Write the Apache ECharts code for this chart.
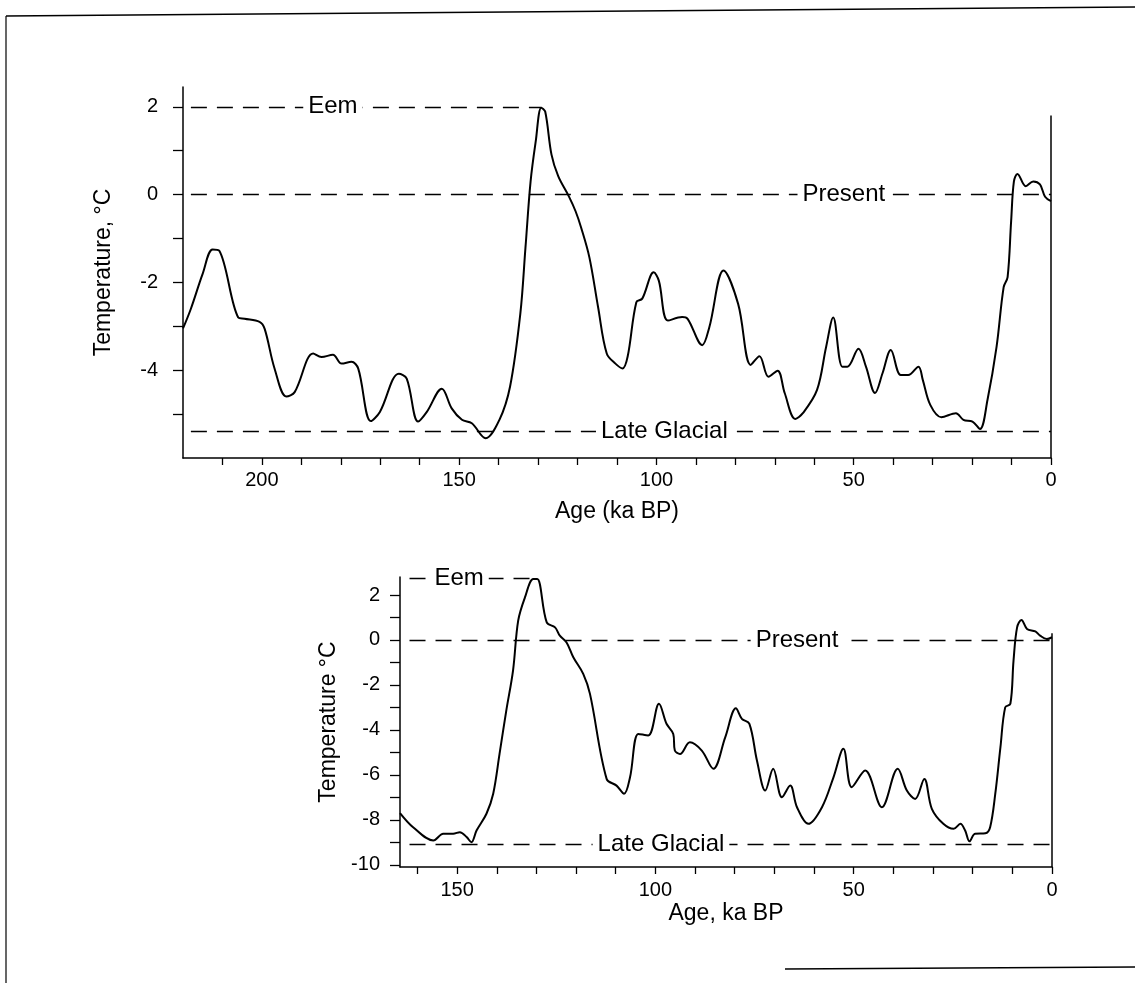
<!DOCTYPE html>
<html><head><meta charset="utf-8">
<script src="https://cdn.jsdelivr.net/npm/echarts@6/dist/echarts.min.js"></script>
<style>html,body{margin:0;padding:0;background:#fff}#c{width:1135px;height:983px}</style>
</head><body><div id="c"></div>
<script>
// ---------- Upper panel: temperature vs age (ka BP) ----------
const topAge = [220, 218, 215, 212.5, 210.8, 206, 204.4, 200.6, 199.3, 196.8, 193.8, 191.7, 187, 184.9, 182, 179.8, 177.3, 175.6, 172.4, 170.1, 165.3, 163.3, 160.4, 158.2, 154.4, 151.9, 149.3, 146.8, 143.3, 139.8, 137.1, 134.5, 133.2, 131.9, 130.6, 129.2, 128.2, 126.6, 124.9, 122.2, 120.5, 119.1, 117.0, 114.8, 112.6, 110.4, 108.6, 107.3, 105.1, 103.6, 100.7, 99.4, 97.1, 93.5, 92.1, 88.4, 86.6, 83.0, 79.3, 76.1, 73.9, 71.6, 69.3, 67.5, 64.8, 62.9, 59.3, 57.0, 55.2, 52.9, 51.6, 48.8, 46.9, 44.6, 42.7, 40.6, 38.1, 36.2, 33.6, 32.5, 30.6, 27.8, 24.1, 22.2, 19.9, 18.0, 16.1, 13.8, 12.0, 11.0, 10.1, 9.4, 8.5, 6.4, 4.5, 2.8, 1.5, 0];
const topTemp = [-3.05, -2.6, -1.8, -1.25, -1.28, -2.8, -2.83, -2.9, -3.06, -3.96, -4.6, -4.5, -3.62, -3.7, -3.65, -3.85, -3.81, -3.96, -5.16, -4.95, -4.08, -4.19, -5.17, -4.95, -4.42, -4.87, -5.13, -5.21, -5.55, -5.13, -4.37, -2.71, -1.21, 0.3, 1.21, 1.98, 1.89, 0.91, 0.42, -0.04, -0.38, -0.75, -1.43, -2.56, -3.62, -3.85, -3.96, -3.69, -2.45, -2.37, -1.77, -1.96, -2.87, -2.79, -2.83, -3.43, -3.02, -1.73, -2.49, -3.88, -3.68, -4.15, -4.01, -4.52, -5.11, -4.98, -4.45, -3.47, -2.8, -3.92, -3.92, -3.51, -3.92, -4.52, -4.07, -3.54, -4.11, -4.11, -3.92, -4.22, -4.79, -5.07, -4.98, -5.13, -5.17, -5.34, -4.68, -3.47, -2.11, -1.88, -0.6, 0.3, 0.47, 0.19, 0.3, 0.23, -0.05, -0.15];

// ---------- Lower panel ----------
const botAge = [164.4, 161.1, 156, 153.5, 151, 149.3, 147.6, 146.4, 145.1, 142.6, 140.9, 139.3, 137.6, 135.9, 134.6, 132.9, 130.8, 129.8, 127.4, 125.3, 124.1, 122.4, 120.7, 118.2, 116.5, 112.3, 109.8, 107.9, 106.4, 104.3, 101.8, 99.1, 97.2, 95.5, 95.1, 93.8, 91.3, 88.3, 85.4, 82.4, 79.7, 78.2, 76.3, 74.4, 72.3, 70.3, 68.1, 66.0, 64.3, 61.4, 58.0, 55.1, 52.6, 50.5, 47.1, 42.9, 38.9, 36.6, 34.5, 32.2, 30.3, 27.4, 24.8, 23.1, 21.9, 20.8, 19.4, 16.8, 15.6, 14.3, 13.0, 11.8, 10.5, 9.7, 8.8, 7.7, 6.3, 4.2, 3.0, 1.3, 0];
const botTemp = [-7.7, -8.33, -8.92, -8.62, -8.62, -8.55, -8.77, -9.0, -8.48, -7.73, -6.84, -5.07, -3.14, -1.36, 0.86, 1.89, 2.71, 2.71, 0.78, 0.56, 0.19, -0.11, -0.77, -1.51, -2.4, -6.18, -6.48, -6.84, -6.11, -4.18, -4.25, -2.84, -3.73, -4.18, -4.92, -5.07, -4.55, -4.92, -5.73, -4.33, -3.04, -3.51, -3.73, -5.36, -6.7, -5.73, -7.0, -6.48, -7.44, -8.18, -7.44, -6.11, -4.84, -6.55, -5.81, -7.44, -5.73, -6.7, -7.07, -6.18, -7.51, -8.18, -8.4, -8.18, -8.48, -8.96, -8.62, -8.6, -8.33, -6.84, -4.77, -3.0, -2.84, -0.92, 0.56, 0.89, 0.49, 0.38, 0.19, 0.04, 0.12];

// ---------- Reference levels ----------
const refNames = ['Eem', 'Present', 'Late Glacial'];
const topRefLevel = [2, 0, -5.4];
const topRefFrom = [218, 218, 218];
const topRefTo = [129.2, 0, 0];
const topRefLabelAge = [182, 52.5, 98];
const botRefLevel = [2.75, 0, -9.1];
const botRefFrom = [162, 162, 162];
const botRefTo = [130.3, 0, 0];
const botRefLabelAge = [149.5, 64.3, 98.6];

// ---------- Ticks ----------
const topXTicks = [0,10,20,30,40,50,60,70,80,90,100,110,120,130,140,150,160,170,180,190,200,210];
const topXLabels = [0, 50, 100, 150, 200];
const topYTicks = [-5,-4,-3,-2,-1,0,1,2];
const topYLabels = [-4, -2, 0, 2];
const botXTicks = [0,10,20,30,40,50,60,70,80,90,100,110,120,130,140,150,160];
const botXLabels = [0, 50, 100, 150];
const botYTicks = [-10,-9,-8,-7,-6,-5,-4,-3,-2,-1,0,1,2];
const botYLabels = [-10, -8, -6, -4, -2, 0, 2];

const FONT = '"Liberation Sans", Arial, Helvetica, sans-serif';
const pairs = (a, b) => a.map((x, i) => [x, b[i]]);
const dash = {type: [16, 10], color: '#000', width: 1.3};

function refLines(from, to, lvl, rightTop, rightBottom) {
  const d = lvl.map((v, i) => [{coord: [from[i], v]}, {coord: [to[i], v]}]);
  d.push([{coord: [0, rightTop], lineStyle: {type: 'solid', width: 1.5}}, {coord: [0, rightBottom]}]);
  return d;
}
function labelData(ages, lvl) { return ages.map((a, i) => [a, lvl[i], refNames[i]]); }

function xAxisCfg(grid, max, ticks, labels, name, gap, margin) {
  return {
    gridIndex: grid, type: 'value', inverse: true, min: 0, max: max,
    splitLine: {show: false},
    axisLine: {onZero: false, lineStyle: {color: '#000', width: 1.5}},
    axisTick: {customValues: ticks, length: 7, lineStyle: {color: '#000', width: 1.3}},
    axisLabel: {customValues: labels, color: '#000', fontSize: 20, fontFamily: FONT, margin: margin},
    name: name, nameLocation: 'middle', nameGap: gap,
    nameTextStyle: {color: '#000', fontSize: 23, fontFamily: FONT}
  };
}
function yAxisCfg(grid, min, max, ticks, labels, name, gap, margin) {
  return {
    gridIndex: grid, type: 'value', min: min, max: max,
    splitLine: {show: false},
    axisLine: {show: true, onZero: false, lineStyle: {color: '#000', width: 1.5}},
    axisTick: {customValues: ticks, length: 10, lineStyle: {color: '#000', width: 1.3}},
    axisLabel: {customValues: labels, color: '#000', fontSize: 20, fontFamily: FONT, margin: margin},
    name: name, nameLocation: 'middle', nameGap: gap, nameRotate: 90,
    nameTextStyle: {color: '#000', fontSize: 23, fontFamily: FONT}
  };
}
function labelSeries(xi, ages, lvl) {
  return {
    type: 'scatter', xAxisIndex: xi, yAxisIndex: xi, z: 10, silent: true,
    symbolSize: 1, itemStyle: {color: '#fff', opacity: 1},
    data: labelData(ages, lvl),
    label: {show: true, position: 'inside', formatter: p => p.data[2], opacity: 1,
      color: '#000', fontSize: 24, fontFamily: FONT, backgroundColor: '#fff', padding: [0, 5]}
  };
}
function curve(xi, data, ml) {
  return {
    type: 'line', xAxisIndex: xi, yAxisIndex: xi, data: data, showSymbol: false,
    smooth: 0.35, lineStyle: {color: '#000', width: 2}, silent: true,
    markLine: {silent: true, symbol: ['none', 'none'], animation: false,
      label: {show: false}, lineStyle: dash, data: ml}
  };
}

const chart = echarts.init(document.getElementById('c'), null, {renderer: 'canvas'});
chart.setOption({
  animation: false,
  backgroundColor: '#fff',
  grid: [
    {left: 183, right: 1135 - 1051, top: 87, bottom: 983 - 458},
    {left: 400, right: 1135 - 1052, top: 577, bottom: 983 - 867}
  ],
  xAxis: [
    xAxisCfg(0, 220, topXTicks, topXLabels, 'Age (ka BP)', 42, 12),
    xAxisCfg(1, 164.4, botXTicks, botXLabels, 'Age, ka BP', 35, 13)
  ],
  yAxis: [
    yAxisCfg(0, -6, 2.45, topYTicks, topYLabels, 'Temperature, \u00B0C', 68, 25),
    yAxisCfg(1, -10.1, 2.8, botYTicks, botYLabels, 'Temperature \u00B0C', 59, 20)
  ],
  series: [
    curve(0, pairs(topAge, topTemp), refLines(topRefFrom, topRefTo, topRefLevel, 1.8, -6)),
    curve(1, pairs(botAge, botTemp), refLines(botRefFrom, botRefTo, botRefLevel, 0.3, -10.1)),
    labelSeries(0, topRefLabelAge, topRefLevel),
    labelSeries(1, botRefLabelAge, botRefLevel)
  ],
  graphic: [
    {type: 'line', silent: true, shape: {x1: 6, y1: 16, x2: 1135, y2: 7}, style: {stroke: '#000', lineWidth: 1.5}},
    {type: 'line', silent: true, shape: {x1: 6, y1: 16, x2: 6, y2: 983}, style: {stroke: '#000', lineWidth: 1.2}},
    {type: 'line', silent: true, shape: {x1: 785, y1: 969, x2: 1135, y2: 967}, style: {stroke: '#000', lineWidth: 1.5}}
  ]
});
</script></body></html>
